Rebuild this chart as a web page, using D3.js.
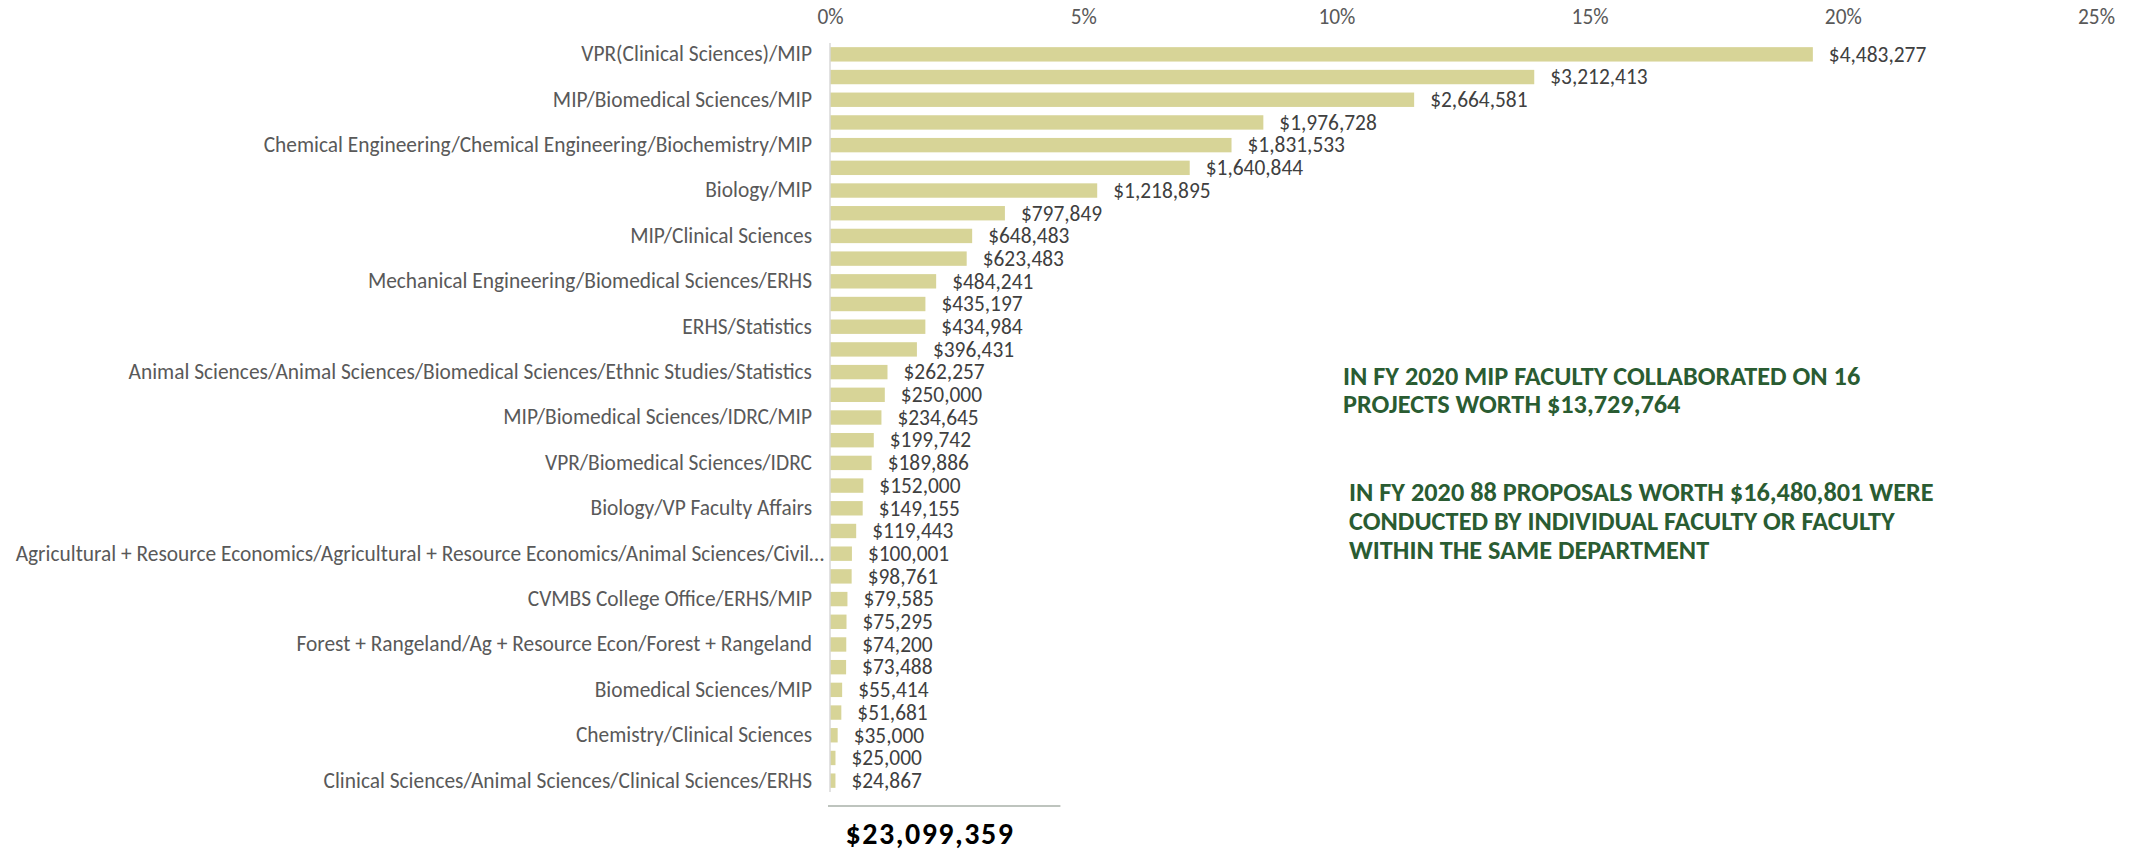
<!DOCTYPE html>
<html>
<head>
<meta charset="utf-8">
<script src="https://cdn.jsdelivr.net/npm/d3@7"></script>
<style>
  html, body { margin: 0; padding: 0; background: #ffffff; }
  svg { display: block; }
</style>
</head>
<body>
<svg id="chart" width="2141" height="852"></svg>
<script>
// ---- data ----
const categories = [
  "VPR(Clinical Sciences)/MIP", null,
  "MIP/Biomedical Sciences/MIP", null,
  "Chemical Engineering/Chemical Engineering/Biochemistry/MIP", null,
  "Biology/MIP", null,
  "MIP/Clinical Sciences", null,
  "Mechanical Engineering/Biomedical Sciences/ERHS", null,
  "ERHS/Statistics", null,
  "Animal Sciences/Animal Sciences/Biomedical Sciences/Ethnic Studies/Statistics", null,
  "MIP/Biomedical Sciences/IDRC/MIP", null,
  "VPR/Biomedical Sciences/IDRC", null,
  "Biology/VP Faculty Affairs", null,
  "Agricultural + Resource Economics/Agricultural + Resource Economics/Animal Sciences/Civil…", null,
  "CVMBS College Office/ERHS/MIP", null,
  "Forest + Rangeland/Ag + Resource Econ/Forest + Rangeland", null,
  "Biomedical Sciences/MIP", null,
  "Chemistry/Clinical Sciences", null,
  "Clinical Sciences/Animal Sciences/Clinical Sciences/ERHS"
];
const amounts = [
  4483277, 3212413, 2664581, 1976728, 1831533, 1640844, 1218895, 797849,
  648483, 623483, 484241, 435197, 434984, 396431, 262257, 250000,
  234645, 199742, 189886, 152000, 149155, 119443, 100001, 98761,
  79585, 75295, 74200, 73488, 55414, 51681, 35000, 25000, 24867
];
const axisTicks = [0, 0.05, 0.10, 0.15, 0.20, 0.25];
const noteLines1 = [
  "IN FY 2020 MIP FACULTY COLLABORATED ON 16",
  "PROJECTS WORTH $13,729,764"
];
const noteLines2 = [
  "IN FY 2020 88 PROPOSALS WORTH $16,480,801 WERE",
  "CONDUCTED BY INDIVIDUAL FACULTY OR FACULTY",
  "WITHIN THE SAME DEPARTMENT"
];

// ---- drawing ----
const FONT = "Carlito, 'Liberation Sans Narrow', 'DejaVu Sans Condensed', 'Open Sans', sans-serif";
const FS = 21.4;
const svg = d3.select("#chart");
const total = d3.sum(amounts);
const idx = d3.range(amounts.length);

const x = d3.scaleLinear().domain([0, 0.25]).range([830, 2096]);
const y = d3.scaleBand().domain(idx).range([43, 792]).paddingInner(0.366).paddingOuter(0.183);

const money = d3.format("$,");

// top axis
const xAxis = d3.axisTop(x).tickValues(axisTicks).tickFormat(d3.format(".0%")).tickSize(0).tickPadding(0);
const gx = svg.append("g").attr("transform", "translate(0,24)").call(xAxis);
gx.select(".domain").remove();
gx.selectAll("text")
  .attr("font-family", FONT).attr("font-size", FS).attr("fill", "#595959").attr("dy", 0);

// bars
svg.append("g").selectAll("rect").data(idx).join("rect")
  .attr("x", x(0))
  .attr("y", i => y(i))
  .attr("width", i => x(amounts[i] / total) - x(0))
  .attr("height", y.bandwidth())
  .attr("fill", "#D7D497");

// left axis (category labels)
const yAxis = d3.axisLeft(y).tickValues(idx.filter(i => categories[i])).tickFormat(i => categories[i]).tickSize(0).tickPadding(18);
const gy = svg.append("g").attr("transform", `translate(${x(0)},0)`).call(yAxis);
gy.select(".domain").attr("stroke", "#d9d9d9").attr("stroke-width", 1.5)
  .attr("d", `M0,${y.range()[0]}V${y.range()[1]}`);
gy.selectAll("text")
  .attr("font-family", FONT).attr("font-size", FS).attr("fill", "#595959")
  .attr("dx", i => categories[i].endsWith("…") ? 12 : 0);

// value labels
svg.append("g").selectAll("text").data(idx).join("text")
  .attr("x", i => x(amounts[i] / total) + 16)
  .attr("y", i => y(i) + y.bandwidth() / 2)
  .attr("dy", "0.34em")
  .attr("font-family", FONT).attr("font-size", FS).attr("fill", "#404040")
  .text(i => money(amounts[i]));

// total line and label
svg.append("line")
  .attr("x1", x(0) - 2).attr("x2", x(0.0455)).attr("y1", 806).attr("y2", 806)
  .attr("stroke", "#a9b0a9").attr("stroke-width", 1.5);
svg.append("text")
  .attr("x", 930).attr("y", 844)
  .attr("text-anchor", "middle")
  .attr("font-family", FONT).attr("font-weight", "bold").attr("font-size", 30)
  .attr("letter-spacing", 1.5).attr("fill", "#000")
  .text(money(total));

// notes
const notes = svg.append("g").attr("font-family", FONT).attr("font-weight", "bold")
  .attr("font-size", 26.3).attr("fill", "#2A5C32");
notes.selectAll("text.n1").data(noteLines1).join("text").attr("class", "n1")
  .attr("x", 1343).attr("y", (d, i) => 385 + i * 28.3).text(d => d);
notes.selectAll("text.n2").data(noteLines2).join("text").attr("class", "n2")
  .attr("x", 1349).attr("y", (d, i) => 500.7 + i * 29.3).text(d => d);
</script>
</body>
</html>
